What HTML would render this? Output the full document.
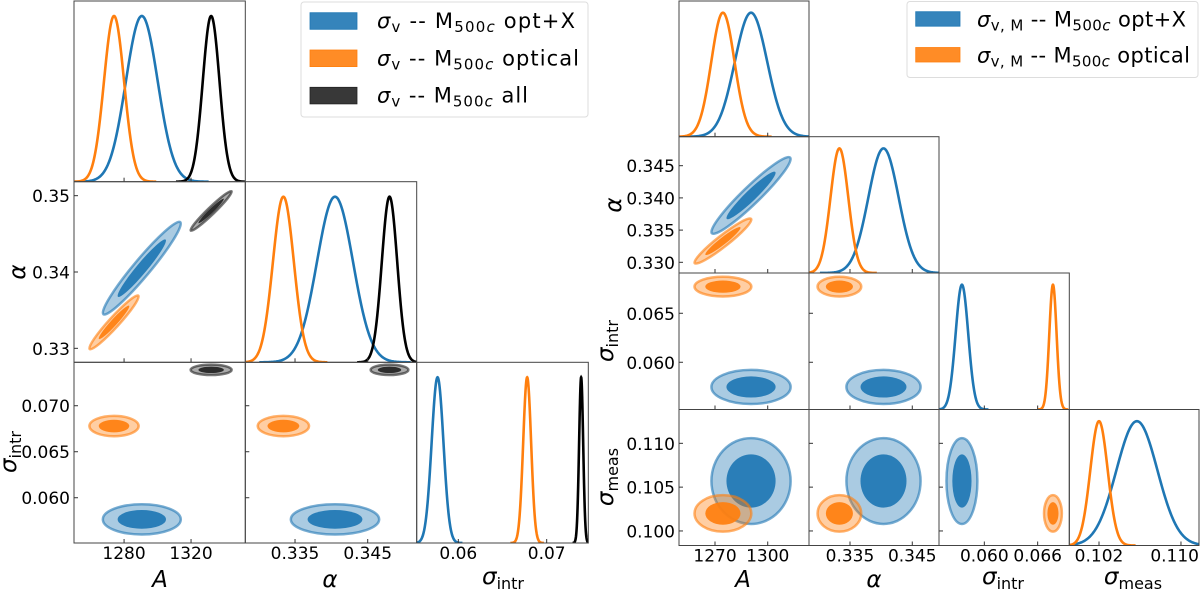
<!DOCTYPE html>
<html><head><meta charset="utf-8">
<style>
html,body{margin:0;padding:0;background:#fff;}
svg{display:block;font-family:"DejaVu Sans","Liberation Sans",sans-serif;}
.tick{font-size:17px;fill:#000;}
.lab{font-size:23px;fill:#000;}
.leg{font-size:21px;fill:#000;}
</style></head>
<body>
<svg id="chart" width="1200" height="591" viewBox="0 0 1200 591" xmlns="http://www.w3.org/2000/svg">
<defs id="defs"></defs>
<g id="left-fig"></g>
<g id="right-fig"></g>
</svg>
<script>
// ---------- LEFT figure data ----------
const leftSeriesNames = ['opt+X', 'optical', 'all'];
const leftMeanA = [1290.6, 1274, 1332];
const leftSigmaA = [9.5, 6.0, 5.0];
const leftMeanAlpha = [0.3405, 0.3334, 0.3480];
const leftSigmaAlpha = [0.00248, 0.00144, 0.00106];
const leftMeanIntr = [0.05765, 0.06779, 0.07390];
const leftSigmaIntr = [0.00067, 0.00045, 0.00023];
const leftRhoAAlpha = [0.96, 0.96, 0.97];
const leftTicksA = [1280, 1320];
const leftTickLabelsA = ['1280', '1320'];
const leftTicksAlphaY = [0.33, 0.34, 0.35];
const leftTickLabelsAlphaY = ['0.33', '0.34', '0.35'];
const leftTicksAlphaX = [0.335, 0.345];
const leftTickLabelsAlphaX = ['0.335', '0.345'];
const leftTicksIntrY = [0.060, 0.065, 0.070];
const leftTickLabelsIntrY = ['0.060', '0.065', '0.070'];
const leftTicksIntrX = [0.06, 0.07];
const leftTickLabelsIntrX = ['0.06', '0.07'];

// ---------- RIGHT figure data ----------
const rightSeriesNames = ['opt+X', 'optical'];
const rightMeanA = [1290.5, 1274.5];
const rightSigmaA = [9.2, 6.6];
const rightMeanAlpha = [0.34038, 0.3333];
const rightSigmaAlpha = [0.00243, 0.00143];
const rightMeanIntr = [0.05748, 0.06772];
const rightSigmaIntr = [0.00071, 0.00041];
const rightMeanMeas = [0.1057, 0.1020];
const rightSigmaMeas = [0.0020, 0.00085];
const rightRhoAAlpha = [0.95, 0.95];
const rightTicksAX = [1270, 1300];
const rightTickLabelsAX = ['1270', '1300'];
const rightTicksAlphaX = [0.335, 0.345];
const rightTickLabelsAlphaX = ['0.335', '0.345'];
const rightTicksAlphaY = [0.330, 0.335, 0.340, 0.345];
const rightTickLabelsAlphaY = ['0.330', '0.335', '0.340', '0.345'];
const rightTicksIntrX = [0.060, 0.066];
const rightTickLabelsIntrX = ['0.060', '0.066'];
const rightTicksIntrY = [0.060, 0.065];
const rightTickLabelsIntrY = ['0.060', '0.065'];
const rightTicksMeasX = [0.102, 0.110];
const rightTickLabelsMeasX = ['0.102', '0.110'];
const rightTicksMeasY = [0.100, 0.105, 0.110];
const rightTickLabelsMeasY = ['0.100', '0.105', '0.110'];

const COLORS = ['#1f77b4', '#ff7f0e', '#222222'];
const NS = 'http://www.w3.org/2000/svg';
let clipCount = 0;

function mk(tag, attrs, parent) {
  const e = document.createElementNS(NS, tag);
  for (const k in attrs) e.setAttribute(k, attrs[k]);
  if (parent) parent.appendChild(e);
  return e;
}
function scale(d0, d1, r0, r1) { return v => r0 + (v - d0) / (d1 - d0) * (r1 - r0); }

function buildFigure(root, cfg) {
  const n = cfg.params.length;
  const xs = cfg.params.map((p, i) => scale(p.xrange[0], p.xrange[1], cfg.cols[i], cfg.cols[i + 1]));
  const ys = cfg.params.map((p, i) => scale(p.yrange[0], p.yrange[1], cfg.rows[i + 1], cfg.rows[i]));
  for (let r = 0; r < n; r++) {
    for (let c = 0; c <= r; c++) {
      const x0 = cfg.cols[c], x1 = cfg.cols[c + 1], y0 = cfg.rows[r], y1 = cfg.rows[r + 1];
      const g = mk('g', {}, root);
      
      
      const cid = 'clip' + (clipCount++);
      const cp = mk('clipPath', { id: cid }, document.getElementById('defs'));
      mk('rect', { x: x0, y: y0, width: x1 - x0, height: y1 - y0 }, cp);
      const content = mk('g', { 'clip-path': 'url(#' + cid + ')' }, g);
      const sx = xs[c], sy = ys[r];
      for (let s = 0; s < cfg.nSeries; s++) {
        const col = COLORS[s];
        if (r === c) {
          const mu = cfg.params[c].mean[s], sd = cfg.params[c].sigma[s];
          const top = y0 + cfg.peakOff, base = y1;
          let d = '';
          for (let k = 0; k <= 200; k++) {
            const v = mu - 4.2 * sd + k * 8.4 * sd / 200;
            const z = (v - mu) / sd;
            const py = base - (base - top) * Math.exp(-0.5 * z * z);
            d += (k ? 'L' : 'M') + sx(v).toFixed(2) + ',' + py.toFixed(2);
          }
          const p = mk('path', { d: d, fill: 'none', stroke: s === 2 ? '#000' : col, 'stroke-width': 2.6 }, content);
          
          
        } else {
          const mx = cfg.params[c].mean[s], my = cfg.params[r].mean[s];
          const sdx = Math.abs(sx(mx + cfg.params[c].sigma[s]) - sx(mx));
          const sdy = Math.abs(sy(my + cfg.params[r].sigma[s]) - sy(my));
          const rho = cfg.rho(c, r, s);
          const a = sdx * sdx, b = -rho * sdx * sdy, dd = sdy * sdy;
          const th = 0.5 * Math.atan2(2 * b, a - dd);
          const ct = Math.cos(th), st = Math.sin(th);
          const v1 = a * ct * ct + 2 * b * st * ct + dd * st * st;
          const v2 = a * st * st - 2 * b * st * ct + dd * ct * ct;
          const ang = th * 180 / Math.PI;
          const cx = sx(mx), cy = sy(my);
          const outer = mk('ellipse', { cx: cx, cy: cy, rx: 2.45 * Math.sqrt(v1), ry: 2.45 * Math.sqrt(v2),
            transform: 'rotate(' + ang + ' ' + cx + ' ' + cy + ')', fill: col, 'fill-opacity': 0.38,
            stroke: col, 'stroke-opacity': 0.6, 'stroke-width': 2.5 }, content);
          
          
          const inner = mk('ellipse', { cx: cx, cy: cy, rx: 1.52 * Math.sqrt(v1), ry: 1.52 * Math.sqrt(v2),
            transform: 'rotate(' + ang + ' ' + cx + ' ' + cy + ')', fill: col, 'fill-opacity': 0.92 }, content);
          
          
        }
      }
      const frame = mk('rect', { x: x0, y: y0, width: x1 - x0, height: y1 - y0, fill: 'none', stroke: '#444', 'stroke-width': 1 }, g);
      
      
      cfg.params[c].xticks.forEach((t, i) => {
        const px = sx(t);
        mk('line', { x1: px, y1: y1, x2: px, y2: y1 - 4, stroke: '#333', 'stroke-width': 1 }, g);
        if (r === n - 1) {
          const overflow = px + 23 > 1199;
          const tl = mk('text', { x: overflow ? 1199 : px, y: y1 + 16, 'text-anchor': overflow ? 'end' : 'middle', class: 'tick' }, g);
          tl.textContent = cfg.params[c].xlabels[i];
          
          
        }
      });
      if (r !== c) {
        cfg.params[r].yticks.forEach((t, i) => {
          const py = sy(t);
          mk('line', { x1: x0, y1: py, x2: x0 + 4, y2: py, stroke: '#333', 'stroke-width': 1 }, g);
          if (c === 0) {
            const tl = mk('text', { x: x0 - 4, y: py + 6.5, 'text-anchor': 'end', class: 'tick' }, g);
            tl.textContent = cfg.params[r].ylabels[i];
            
            
          }
        });
      }
    }
  }
}

function axisLabel(parent, x, y, main, sub, rot, name) {
  const t = mk('text', { x: x, y: y, 'text-anchor': 'middle', class: 'lab' }, parent);
  if (rot) t.setAttribute('transform', 'rotate(-90 ' + x + ' ' + y + ')');
  const m = mk('tspan', { 'font-style': 'italic' }, t); m.textContent = main;
  if (sub) { const s = mk('tspan', { 'font-size': '16', dy: '5' }, t); s.textContent = sub; }
  
  
}

function legend(parent, box, patch, textX, base0, step, entries, sub, name) {
  const g = mk('g', {}, parent);
  
  
  mk('rect', { x: box[0], y: box[1], width: box[2], height: box[3], rx: 3, fill: '#fff', stroke: '#ddd', 'stroke-width': 1 }, g);
  entries.forEach((e, i) => {
    const by = base0 + i * step;
    const eg = mk('g', {}, g);
    
    
    mk('rect', { x: patch[0], y: patch[1] + i * step, width: patch[2], height: patch[3], fill: e.color, 'fill-opacity': 0.9, stroke: e.color, 'stroke-width': 0.8 }, eg);
    const t = mk('text', { x: textX, y: by, class: 'leg', textLength: e.len, lengthAdjust: 'spacing' }, eg);
    const s1 = mk('tspan', { 'font-style': 'italic' }, t); s1.textContent = 'σ';
    const s2 = mk('tspan', { 'font-size': '15', dy: '4' }, t); s2.textContent = sub;
    const s3 = mk('tspan', { dy: '-4' }, t); s3.textContent = ' -- M';
    const s4 = mk('tspan', { 'font-size': '15', dy: '4' }, t); s4.textContent = '500';
    const s5 = mk('tspan', { 'font-size': '15', 'font-style': 'italic' }, t); s5.textContent = 'c';
    const s6 = mk('tspan', { dy: '-4' }, t); s6.textContent = ' ' + e.label;
  });
}

// LEFT
const L = document.getElementById('left-fig');
buildFigure(L, {
  nSeries: 3, names: leftSeriesNames, peakOff: 15,
  cols: [74, 245.3, 416.7, 588.3], rows: [1, 181.7, 362.3, 543],
  params: [
    { key: 'A', xrange: [1250.1, 1352.4], yrange: [0, 1], mean: leftMeanA, sigma: leftSigmaA, xticks: leftTicksA, xlabels: leftTickLabelsA, yticks: [], ylabels: [] },
    { key: 'alpha', xrange: [0.32816, 0.35174], yrange: [0.32817, 0.35183], mean: leftMeanAlpha, sigma: leftSigmaAlpha, xticks: leftTicksAlphaX, xlabels: leftTickLabelsAlphaX, yticks: leftTicksAlphaY, ylabels: leftTickLabelsAlphaY },
    { key: 'sigma-intr', xrange: [0.05529, 0.07471], yrange: [0.05508, 0.07472], mean: leftMeanIntr, sigma: leftSigmaIntr, xticks: leftTicksIntrX, xlabels: leftTickLabelsIntrX, yticks: leftTicksIntrY, ylabels: leftTickLabelsIntrY }
  ],
  rho: (c, r, s) => (c === 0 && r === 1) ? leftRhoAAlpha[s] : 0
});
axisLabel(L, 160, 587, 'A', '', false, 'x-axis-title-A');
axisLabel(L, 330, 587, 'α', '', false, 'x-axis-title-alpha');
axisLabel(L, 503, 584, 'σ', 'intr', false, 'x-axis-title-sigma-intr');
axisLabel(L, 25, 272, 'α', '', true, 'y-axis-title-alpha');
axisLabel(L, 16, 452, 'σ', 'intr', true, 'y-axis-title-sigma-intr');
legend(L, [301, 2, 287, 115], [310, 12.7, 47, 16.6], 377, 28, 37.3, [
  { key: 'optX', color: COLORS[0], label: 'opt+X', len: 198 },
  { key: 'optical', color: COLORS[1], label: 'optical', len: 202 },
  { key: 'all', color: COLORS[2], label: 'all', len: 151 }], 'v', 'left-legend');

// RIGHT
const R = document.getElementById('right-fig');
buildFigure(R, {
  nSeries: 2, names: rightSeriesNames, peakOff: 11.7,
  cols: [679, 809, 939, 1069.3, 1199], rows: [1, 136.7, 273, 409.5, 545.5],
  params: [
    { key: 'A', xrange: [1249.5, 1323.5], yrange: [0, 1], mean: rightMeanA, sigma: rightSigmaA, xticks: rightTicksAX, xlabels: rightTickLabelsAX, yticks: [], ylabels: [] },
    { key: 'alpha', xrange: [0.32842, 0.34929], yrange: [0.32834, 0.3495], mean: rightMeanAlpha, sigma: rightSigmaAlpha, xticks: rightTicksAlphaX, xlabels: rightTickLabelsAlphaX, yticks: rightTicksAlphaY, ylabels: rightTickLabelsAlphaY },
    { key: 'sigma-intr', xrange: [0.0549, 0.06956], yrange: [0.05518, 0.06911], mean: rightMeanIntr, sigma: rightSigmaIntr, xticks: rightTicksIntrX, xlabels: rightTickLabelsIntrX, yticks: rightTicksIntrY, ylabels: rightTickLabelsIntrY },
    { key: 'sigma-meas', xrange: [0.0991, 0.11176], yrange: [0.09834, 0.11386], mean: rightMeanMeas, sigma: rightSigmaMeas, xticks: rightTicksMeasX, xlabels: rightTickLabelsMeasX, yticks: rightTicksMeasY, ylabels: rightTickLabelsMeasY }
  ],
  rho: (c, r, s) => (c === 0 && r === 1) ? rightRhoAAlpha[s] : 0
});
axisLabel(R, 743, 587, 'A', '', false, 'x-axis-title-A');
axisLabel(R, 874, 587, 'α', '', false, 'x-axis-title-alpha');
axisLabel(R, 1003, 584, 'σ', 'intr', false, 'x-axis-title-sigma-intr');
axisLabel(R, 1133, 584, 'σ', 'meas', false, 'x-axis-title-sigma-meas');
axisLabel(R, 621, 205, 'α', '', true, 'y-axis-title-alpha');
axisLabel(R, 613, 341, 'σ', 'intr', true, 'y-axis-title-sigma-intr');
axisLabel(R, 613, 477, 'σ', 'meas', true, 'y-axis-title-sigma-meas');
legend(R, [907, 1.5, 291, 76], [915.7, 11.7, 44.3, 14.5], 977, 26.5, 35.8, [
  { key: 'optX', color: COLORS[0], label: 'opt+X', len: 209 },
  { key: 'optical', color: COLORS[1], label: 'optical', len: 213 }], 'v, M', 'right-legend');
</script>
</body></html>
